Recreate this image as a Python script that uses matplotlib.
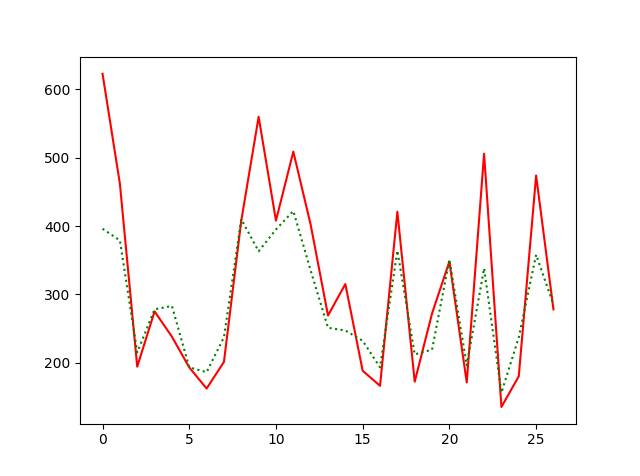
import matplotlib
matplotlib.use("Agg")
import matplotlib.pyplot as plt

x = list(range(27))
red_values = [623, 462, 194, 275, 238, 193, 162, 201, 408, 560, 408, 509, 402, 269, 315, 188, 166, 421, 172, 272, 348, 171, 506, 135, 180, 474, 278]
green_values = [396, 379, 215, 278, 283, 193, 186, 237, 410, 363, 395, 422, 335, 251, 247, 232, 193, 364, 212, 219, 351, 196, 338, 156, 237, 358, 285]

fig, ax = plt.subplots(figsize=(6.4, 4.76), dpi=100)
ax.plot(x, red_values, 'r-')
ax.plot(x, green_values, 'g:')
fig.savefig("out.png")
